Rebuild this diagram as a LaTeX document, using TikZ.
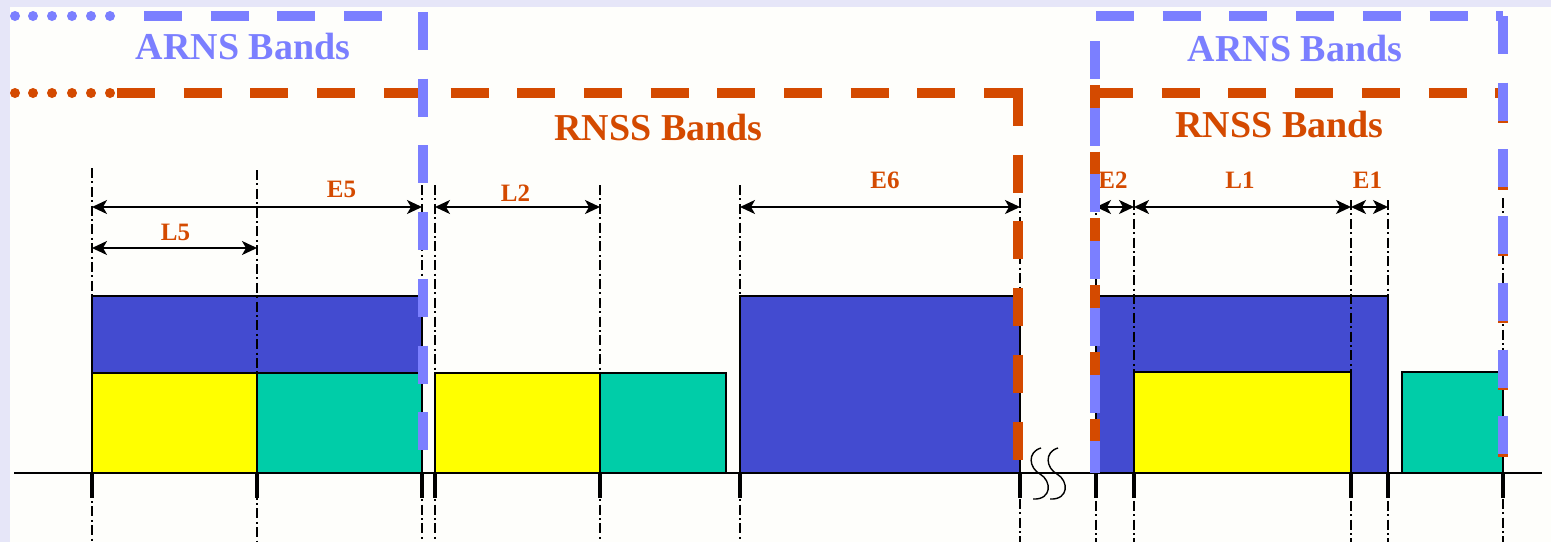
\documentclass[tikz,border=0pt]{standalone}
\usepackage{fontspec}
\setmainfont{Liberation Serif}
\usetikzlibrary{arrows.meta}
\definecolor{bgtint}{HTML}{E6E6F8}
\definecolor{paper}{HTML}{FEFEFB}
\definecolor{arns}{HTML}{7B7FFF}
\definecolor{rnss}{HTML}{D44A00}
\definecolor{bandblue}{HTML}{434BD0}
\definecolor{bandyellow}{HTML}{FFFF00}
\definecolor{bandgreen}{HTML}{00CDA8}
\begin{document}
\begin{tikzpicture}[x=0.5pt,y=-0.5pt,
  band/.style={draw=black,line width=0.6pt},
  axisline/.style={black,line width=0.75pt},
  tickmark/.style={black,line width=2pt},
  ddline/.style={black,line width=0.7pt,dash pattern=on 5pt off 1.7pt on 1pt off 1.7pt},
  dim/.style={{Stealth[length=7.5pt,width=7pt,inset=2pt]}-{Stealth[length=7.5pt,width=7pt,inset=2pt]},black,line width=0.75pt},
  arnsline/.style={draw=arns,line width=5pt,dash pattern=on 19pt off 14.35pt},
  rnssline/.style={draw=rnss,line width=5pt,dash pattern=on 19pt off 14.35pt},
  lab/.style={text=rnss,font=\bfseries\fontsize{12.5}{14}\selectfont,anchor=base,inner sep=0pt},
  bandtitle/.style={font=\bfseries\fontsize{19}{22}\selectfont,anchor=base,inner sep=0pt},
  brk/.style={black,line width=0.7pt}]

% page background
\fill[bgtint] (0,0) rectangle (1551,542);
\fill[paper] (10,7) rectangle (1551,542);
\useasboundingbox (0,0) rectangle (1551,542);

% frequency marks on the axis
\foreach \n/\x in {a/92,b/257,c/422,d/435,e/600,f/740,g/1020,h/1096,i/1134,j/1351,k/1388,l/1503}
  \coordinate (\n) at (\x,473);
\coordinate (row1) at (0,207);
\coordinate (row2) at (0,248);

% signal bands
\filldraw[band,fill=bandblue]   (92,296)   rectangle (422,373);
\filldraw[band,fill=bandyellow] (92,373)   rectangle (257,473);
\filldraw[band,fill=bandgreen]  (257,373)  rectangle (422,473);
\filldraw[band,fill=bandyellow] (435,373)  rectangle (600,473);
\filldraw[band,fill=bandgreen]  (600,373)  rectangle (726,473);
\filldraw[band,fill=bandblue]   (740,296)  rectangle (1020,473);
\filldraw[band,fill=bandblue]   (1096,296) rectangle (1388,473);
\filldraw[band,fill=bandyellow] (1134,372) rectangle (1351,473);
\filldraw[band,fill=bandgreen]  (1402,372) rectangle (1503,473);

% frequency axis
\draw[axisline] (14,473) -- (1542,473);
\foreach \n in {a,b,c,d,e,f,g,h,i,j,k,l}
  \draw[tickmark] (\n) -- ++(0,25);

% axis break
\draw[brk] (1041,448) .. controls (1027,452) and (1029,468) .. (1040,474)
           .. controls (1052,481) and (1052,500) .. (1033,499);
\draw[brk] (1058,448) .. controls (1044,452) and (1046,468) .. (1057,474)
           .. controls (1069,481) and (1069,500) .. (1050,499);

% band edge guides
\foreach \n/\t in {a/168,b/170,c/185,d/185,e/185,f/185,g/198,h/200,i/200,j/200,k/200,l/198}
  \draw[ddline] (\n |- 0,\t) -- (\n |- 0,542);

% bandwidth dimensions
\draw[dim] (a |- row1) -- (c |- row1);
\draw[dim] (a |- row2) -- (b |- row2);
\draw[dim] (d |- row1) -- (e |- row1);
\draw[dim] (f |- row1) -- (g |- row1);
\draw[dim] (h |- row1) -- (i |- row1);
\draw[dim] (i |- row1) -- (j |- row1);
\draw[dim] (j |- row1) -- (k |- row1);

\node[lab] (lE5) at (341.5,197) {E5};
\node[lab] (lL5) at (175.5,240) {L5};
\node[lab] (lL2) at (515.5,201) {L2};
\node[lab] (lE6) at (885,188) {E6};
\node[lab] (lE2) at (1113,188) {E2};
\node[lab] (lL1) at (1240,188) {L1};
\node[lab] (lE1) at (1367.5,188) {E1};

% RNSS allocations
\foreach \x in {15,33,52,72,91,110}
  \fill[rnss] (\x,93) circle[radius=5];
\draw[rnssline] (117,93) -- (1022,93);
\draw[rnssline] (1018,88) -- (1018,462);
\draw[rnssline] (1095,85) -- (1095,460);
\draw[rnssline] (1095,93) -- (1500,93);
\draw[rnssline] (1502.5,85) -- (1502.5,457);

% ARNS allocations
\foreach \x in {15,33,52,72,91,110}
  \fill[arns] (\x,16) circle[radius=5];
\draw[arnsline] (144,16) -- (384,16);
\draw[arnsline] (422.5,12) -- (422.5,450);
\draw[arnsline] (1096,16) -- (1503,16);
\draw[arnsline] (1095,41) -- (1095,473);
\draw[arnsline] (1502.5,16) -- (1502.5,455);

% allocation titles
\node[bandtitle,text=arns] (arnsL) at (243,59)    {ARNS Bands};
\node[bandtitle,text=rnss] (rnssL) at (658.5,140) {RNSS Bands};
\node[bandtitle,text=arns] (arnsR) at (1295,61)   {ARNS Bands};
\node[bandtitle,text=rnss] (rnssR) at (1279.5,137) {RNSS Bands};
\end{tikzpicture}
\end{document}
